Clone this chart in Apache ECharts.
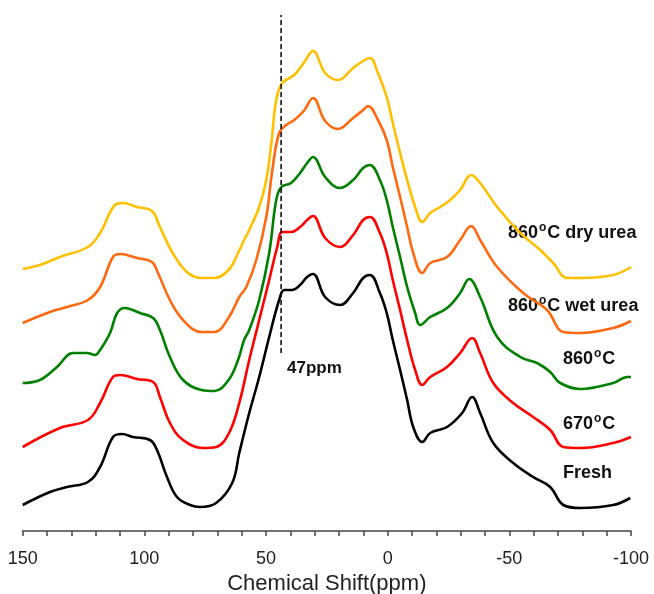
<!DOCTYPE html>
<html>
<head>
<meta charset="utf-8">
<script src="https://cdn.jsdelivr.net/npm/echarts@6/dist/echarts.min.js"></script>
<style>
  html, body { margin: 0; padding: 0; background: #fff; }
  #chart { width: 654px; height: 594px; }
</style>
</head>
<body>
<div id="chart"></div>
<script>
// x: chemical shift (ppm); y: stacked intensity (arbitrary units, offsets included)
var fresh = [[150,26],[138.8,39],[131.8,44],[123.2,49],[118.2,64],[112.9,94],[109.2,97],[104.7,94],[97.7,91],[94.8,81],[90.7,54],[86.6,34],[81.2,26],[77.1,24],[70.5,28],[63.9,48],[61.0,78],[56.9,118],[52.8,154],[48.7,194],[44.6,231],[42.5,241],[39.3,241],[36.0,246],[33.1,254],[30.7,257],[25.7,234],[19.6,226],[14.2,238],[10.1,253],[7.3,256],[3.2,238],[0.4,218],[-2.1,191],[-5.1,161],[-8.0,131],[-10.5,104],[-14.2,89],[-17.5,98],[-24.4,104],[-30.6,118],[-34.7,134],[-38.0,118],[-43.4,88],[-51.6,68],[-59.8,54],[-66.8,44],[-72.2,26],[-79.2,23],[-92.7,26],[-99.7,33]];

var t670 = [[150,84],[134.7,103],[123.2,111],[118.2,128],[112.9,154],[110.0,156],[103.0,152],[96.4,149],[93.6,134],[89.5,108],[84.1,91],[75.9,83],[70.5,84],[65.2,98],[61.0,128],[56.9,171],[52.8,211],[48.7,251],[45.4,284],[43.3,299],[39.7,299],[36.0,304],[33.1,311],[30.7,315],[25.7,293],[19.6,284],[14.2,296],[10.1,311],[7.3,314],[3.2,298],[0.4,278],[-2.1,251],[-5.1,221],[-8.0,191],[-11.3,161],[-14.2,146],[-17.5,154],[-24.4,164],[-29.8,178],[-34.7,193],[-38.0,178],[-43.4,148],[-51.6,128],[-59.8,114],[-66.8,101],[-72.2,84],[-79.2,83],[-92.7,88],[-100,94]];

var t860 = [[150,148],[142.9,151],[135.9,164],[129.3,178],[123.6,178],[120.3,176],[118.2,181],[114.1,198],[111.2,218],[108.0,223],[101.8,218],[96.4,213],[93.6,201],[89.5,174],[84.1,151],[76.5,141],[71.2,140],[65.4,151],[61.5,171],[59.0,191],[56.9,201],[52.8,231],[48.7,278],[45.8,331],[43.7,344],[39.7,348],[36.0,358],[33.1,368],[30.7,374],[25.7,354],[19.6,343],[14.2,351],[10.1,363],[7.3,366],[3.2,351],[0.4,331],[-2.1,304],[-5.1,274],[-8.0,244],[-11.3,218],[-13.3,206],[-17.5,214],[-24.4,223],[-29.8,238],[-33.5,252],[-38.0,234],[-45.0,194],[-54.5,174],[-61.4,168],[-66.8,159],[-70.9,148],[-79.2,142],[-92.7,148],[-98.5,154],[-100,154]];

var wetUrea = [[150,208],[138.8,219],[131.8,224],[123.2,231],[118.2,244],[112.9,274],[110.0,277],[103.0,273],[96.9,269],[94.4,258],[89.5,231],[84.1,211],[76.5,199],[71.2,199],[65.2,214],[61.0,234],[58.1,244],[54.0,271],[49.9,314],[47.4,361],[44.6,398],[41.7,406],[38.4,411],[34.5,420],[30.7,433],[25.7,410],[20.4,402],[14.2,413],[10.1,421],[8.1,425],[4.0,411],[0.4,391],[-2.1,364],[-5.1,334],[-8.0,304],[-10.5,278],[-14.2,258],[-17.5,268],[-24.4,274],[-29.8,291],[-34.3,305],[-38.0,291],[-45.0,264],[-55.7,238],[-65.5,221],[-72.2,199],[-79.2,198],[-92.7,203],[-100,210]];

var dryUrea = [[150,262],[142.9,266],[134.7,274],[123.2,284],[118.2,298],[112.1,326],[108.8,328],[103.0,324],[96.9,320],[93.6,304],[88.6,279],[82.5,259],[76.5,253],[71.2,253],[65.4,261],[61.5,278],[59.0,291],[56.9,301],[52.8,324],[49.9,351],[47.8,388],[45.8,431],[43.3,448],[38.4,456],[34.5,468],[30.7,480],[25.7,458],[20.4,451],[14.2,463],[10.1,470],[7.3,473],[4.0,458],[0.4,434],[-2.1,408],[-5.1,378],[-8.0,351],[-11.3,324],[-14.2,309],[-17.5,318],[-21.6,324],[-25.7,331],[-29.8,341],[-34.3,356],[-38.0,348],[-45.0,324],[-54.5,298],[-62.7,281],[-68.0,268],[-73.8,253],[-79.2,253],[-92.7,256],[-100,264]];

var seriesNames = ['Fresh', '670oC', '860oC', '860oC wet urea', '860oC dry urea'];
var markerPpm = 43.8;          // dashed reference line position
var markerRange = [178, 516];  // dashed line extent (intensity units)
var markerText = '47ppm';
var xTicks = [150, 100, 50, 0, -50, -100];

var chart = echarts.init(document.getElementById('chart'), null, { renderer: 'canvas' });

function lineSeries(name, data, color) {
  return {
    name: name, type: 'line', data: data, showSymbol: false, smooth: 0.4,
    silent: true, animation: false,
    lineStyle: { color: color, width: 2.6 },
    z: 3
  };
}

var FONT = '"Liberation Sans", Arial, Helvetica, sans-serif';
var RICH = {
  n: { fontSize: 18, fontWeight: 'bold', fontFamily: FONT, fill: '#111', lineHeight: 20, verticalAlign: 'bottom' },
  s: { fontSize: 12, fontWeight: 'bold', fontFamily: FONT, fill: '#111', lineHeight: 12, padding: [0, 1, 8, 1], verticalAlign: 'bottom' }
};
function supLabel(prefix, suffix, left, top) {
  return {
    type: 'text', left: left, top: top, silent: true,
    style: { text: '{n|' + prefix + '}{s|o}{n|' + suffix + '}', rich: RICH }
  };
}

var option = {
  backgroundColor: '#ffffff',
  animation: false,
  grid: { left: 22.7, right: 23, top: 0, bottom: 63, containLabel: false, outerBoundsMode: 'none' },
  xAxis: {
    type: 'value', inverse: true, min: -100, max: 150, interval: 50,
    name: 'Chemical Shift(ppm)', nameLocation: 'middle', nameGap: 37,
    nameTextStyle: { fontSize: 22, fontFamily: FONT, color: '#222' },
    axisLine: { show: true, lineStyle: { color: '#444', width: 1.5 } },
    axisTick: { show: true, length: 5, lineStyle: { color: '#444', width: 1.5 } },
    minorTick: { show: true, splitNumber: 5, length: 5, lineStyle: { color: '#444', width: 1.5 } },
    splitLine: { show: false }, minorSplitLine: { show: false },
    axisLabel: {
      fontSize: 18, fontFamily: FONT, color: '#222', margin: 19,
      customValues: xTicks
    }
  },
  yAxis: { type: 'value', min: 0, max: 531, show: false, splitLine: { show: false } },
  series: [
    lineSeries(seriesNames[4], dryUrea, '#FFC000'),
    lineSeries(seriesNames[3], wetUrea, '#FF6A10'),
    lineSeries(seriesNames[2], t860, '#008000'),
    lineSeries(seriesNames[1], t670, '#FF0000'),
    lineSeries(seriesNames[0], fresh, '#000000'),
    {
      type: 'line', silent: true, showSymbol: false, animation: false, z: 5,
      data: [[markerPpm, markerRange[0]], [markerPpm, markerRange[1]]],
      lineStyle: { color: '#000', width: 1.5, type: [5, 3] }
    }
  ],
  graphic: [
    supLabel('860', 'C dry urea', 508, 222),
    supLabel('860', 'C wet urea', 508, 295),
    supLabel('860', 'C', 563, 348),
    supLabel('670', 'C', 563, 413),
    { type: 'text', left: 563, top: 464, silent: true,
      style: { text: '{n|' + seriesNames[0] + '}', rich: RICH } },
    { type: 'text', left: 287, top: 360, silent: true,
      style: { text: markerText, fontSize: 17, fontWeight: 'bold', fontFamily: FONT, fill: '#111' } }
  ]
};
chart.setOption(option);
</script>
</body>
</html>
